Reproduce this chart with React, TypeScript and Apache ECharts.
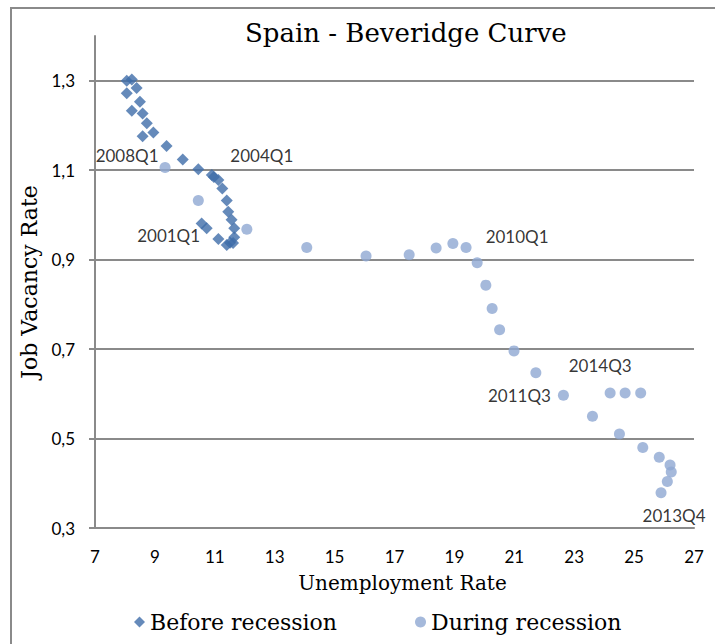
import React, { useEffect, useRef } from "react";
import * as echarts from "echarts";

// Before recession (2001Q1 - 2007Q4): [unemployment rate, job vacancy rate]
const beforeRecession: [number, number][] = [
  [10.56, 0.981], [10.73, 0.970], [11.12, 0.946], [11.40, 0.933], [11.51, 0.938],
  [11.61, 0.937], [11.65, 0.950], [11.65, 0.970], [11.56, 0.989], [11.45, 1.007],
  [11.40, 1.032], [11.25, 1.059], [11.12, 1.078], [10.97, 1.085], [10.90, 1.089],
  [10.45, 1.102], [9.93, 1.124], [9.39, 1.154], [8.95, 1.184], [8.59, 1.176],
  [8.73, 1.205], [8.59, 1.227], [8.23, 1.233], [8.50, 1.253], [8.06, 1.272],
  [8.39, 1.284], [8.23, 1.303], [8.06, 1.300],
];

// During recession (2008Q1 - 2014Q3)
const duringRecession: [number, number][] = [
  [9.34, 1.106], [10.45, 1.032], [12.07, 0.968], [14.07, 0.927], [16.05, 0.908],
  [17.49, 0.911], [18.39, 0.926], [18.95, 0.936], [19.39, 0.927], [19.76, 0.893],
  [20.05, 0.843], [20.26, 0.791], [20.51, 0.743], [20.99, 0.696], [21.72, 0.647],
  [22.64, 0.597], [23.61, 0.550], [24.51, 0.510], [25.29, 0.480], [25.84, 0.458],
  [26.20, 0.441], [26.24, 0.425], [26.11, 0.404], [25.90, 0.379], [24.20, 0.602],
  [24.70, 0.602], [25.22, 0.602],
];

const seriesNames = ["Before recession", "During recession"];

// Quarter labels attached to points: series index, point index, text
const quarterLabels = [
  { series: 0, index: 0, text: "2001Q1" },
  { series: 0, index: 14, text: "2004Q1" },
  { series: 1, index: 0, text: "2008Q1" },
  { series: 1, index: 8, text: "2010Q1" },
  { series: 1, index: 15, text: "2011Q3" },
  { series: 1, index: 23, text: "2013Q4" },
  { series: 1, index: 24, text: "2014Q3" },
];

const xTicks = { min: 7, max: 27, step: 2 };
const yTicks = { min: 0.3, max: 1.4, step: 0.2 };
const yTickValues = [0.3, 0.5, 0.7, 0.9, 1.1, 1.3];

// label placement (style only)
const labelOffsets: Record<string, [number, number]> = {
  "2001Q1": [-33, 12],
  "2004Q1": [50, -20],
  "2008Q1": [-38, -12],
  "2010Q1": [51, -11],
  "2011Q3": [-44, 0],
  "2013Q4": [13, 23],
  "2014Q3": [-10, -27],
};

const SERIF = "'DejaVu Serif', 'Liberation Serif', serif";
const SANS = "Lato, 'Open Sans', sans-serif";
const GRAY = "#8a8a8a";

function buildData(points: [number, number][], s: number) {
  return points.map((p, i) => {
    const lab = quarterLabels.find((l) => l.series === s && l.index === i);
    if (!lab) return { value: p };
    return {
      value: p,
      label: {
        show: true,
        formatter: lab.text,
        position: "inside",
        offset: labelOffsets[lab.text],
        color: "#000",
        fontFamily: SANS,
        fontSize: 17,
      },
    };
  });
}

export default function App() {
  const ref = useRef<HTMLDivElement>(null);
  useEffect(() => {
    if (!ref.current) return;
    const chart = echarts.init(ref.current, undefined, { renderer: "svg" });
    chart.setOption({
      animation: false,
      backgroundColor: "#fff",
      title: {
        text: "Spain - Beveridge Curve",
        left: 240,
        top: 15,
        textStyle: { fontFamily: SERIF, fontSize: 26, fontWeight: "normal", color: "#000" },
      },
      graphic: [
        {
          type: "rect",
          shape: { x: 11, y: 8, width: 900, height: 900 },
          style: { fill: "none", stroke: GRAY, lineWidth: 2 },
          silent: true,
        },
      ],
      legend: {
        left: 129,
        top: 606,
        itemWidth: 11,
        itemHeight: 11,
        itemGap: 78,
        textStyle: { fontFamily: SERIF, fontSize: 22, color: "#000" },
        data: [
          { name: seriesNames[0], icon: "diamond" },
          { name: seriesNames[1], icon: "circle" },
        ],
      },
      grid: { left: 95, right: 21, top: 36, bottom: 116 },
      xAxis: {
        type: "value",
        min: xTicks.min,
        max: xTicks.max,
        interval: xTicks.step,
        name: "Unemployment Rate",
        nameLocation: "middle",
        nameGap: 45,
        nameTextStyle: { fontFamily: SERIF, fontSize: 20, color: "#000", padding: [0, 0, 0, 16] },
        axisLine: { show: true, lineStyle: { color: GRAY, width: 2 } },
        axisTick: { show: false },
        splitLine: { show: false },
        axisLabel: { margin: 20, fontFamily: SANS, fontSize: 17, color: "#000" },
      },
      yAxis: {
        type: "value",
        min: yTicks.min,
        max: yTicks.max,
        interval: yTicks.step,
        name: "Job Vacancy Rate",
        nameLocation: "middle",
        nameGap: 51,
        nameTextStyle: { fontFamily: SERIF, fontSize: 22, color: "#000" },
        axisLine: { show: true, lineStyle: { color: GRAY, width: 2 } },
        axisTick: {
          show: true,
          inside: false,
          length: 6,
          customValues: yTickValues,
          lineStyle: { color: GRAY, width: 2 },
        },
        splitLine: { show: true, lineStyle: { color: GRAY, width: 2 } },
        axisLabel: {
          margin: 20,
          fontFamily: SANS,
          fontSize: 17,
          color: "#000",
          customValues: yTickValues,
          formatter: (v: number) => v.toFixed(1).replace(".", ","),
        },
      },
      series: [
        {
          name: seriesNames[0],
          type: "scatter",
          symbol: "diamond",
          symbolSize: 12,
          itemStyle: { color: "#3e6da9" },
          data: buildData(beforeRecession, 0),
        },
        {
          name: seriesNames[1],
          type: "scatter",
          symbol: "circle",
          symbolSize: 11,
          itemStyle: { color: "#8ea7d2" },
          data: buildData(duringRecession, 1),
        },
      ],
    });
    return () => chart.dispose();
  }, []);
  return (
    <div
      ref={ref}
      style={{ position: "fixed", left: 0, top: 0, width: 715, height: 644 }}
    />
  );
}
